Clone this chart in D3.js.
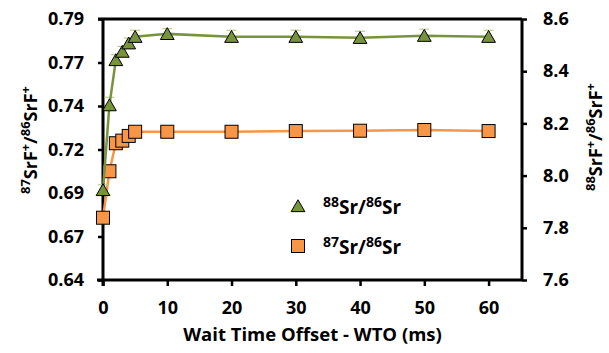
<!DOCTYPE html>
<html><head><meta charset="utf-8">
<script src="https://cdn.jsdelivr.net/npm/d3@7"></script>
<style>
body{margin:0;background:#fff;}
text{font-family:"Open Sans",Lato,sans-serif;font-weight:bold;fill:#000;}
</style></head>
<body>
<svg id="c" width="609" height="353"></svg>
<script>
const wto = [0, 1, 2, 3, 4, 5, 10, 20, 30, 40, 50, 60];
const sr87_86 = [0.6758, 0.7025, 0.7186, 0.7201, 0.7228, 0.7252, 0.7252, 0.7252, 0.7256, 0.7258, 0.7262, 0.7256];
const sr88_86 = [7.945, 8.270, 8.443, 8.475, 8.507, 8.532, 8.543, 8.532, 8.532, 8.528, 8.536, 8.532];
const sr88_86_err = [0.02, 0.03, 0.02, 0.02, 0.02, 0.025, 0.02, 0.025, 0.025, 0.025, 0.025, 0.025];
const xTicks = [0, 10, 20, 30, 40, 50, 60];
const leftTicks = [0.64, 0.665, 0.69, 0.715, 0.74, 0.765, 0.79];
const rightTicks = [7.6, 7.8, 8.0, 8.2, 8.4, 8.6];

const svg = d3.select("#c");
const L = 103, R = 522, T = 19, B = 280;
const x = d3.scaleLinear().domain([0, 65.2]).range([L, R]);
const yL = d3.scaleLinear().domain([0.64, 0.79]).range([B, T]);
const yR = d3.scaleLinear().domain([7.6, 8.6]).range([B, T]);

const green = "#77933C", orange = "#F79646";

const fmtL = v => (Math.round(v * 100 + 1e-6) / 100).toFixed(2);
const ax = svg.append("g").attr("transform", `translate(0,${B})`)
  .call(d3.axisBottom(x).tickValues(xTicks).tickSize(6).tickPadding(15).tickFormat(d3.format("d")));
const al = svg.append("g").attr("transform", `translate(${L},0)`)
  .call(d3.axisLeft(yL).tickValues(leftTicks).tickSize(5).tickPadding(14).tickFormat(fmtL));
const ar = svg.append("g").attr("transform", `translate(${R},0)`)
  .call(d3.axisRight(yR).tickValues(rightTicks).tickSize(5).tickPadding(16).tickFormat(d3.format(".1f")));
[ax, al, ar].forEach(g => {
  g.select(".domain").attr("stroke", "#000").attr("stroke-width", 3);
  g.selectAll(".tick line").attr("stroke", "#000").attr("stroke-width", 2.5);
  g.selectAll(".tick text").style("font-size", "18px").style("font-family", "'Open Sans'").style("font-weight", "bold");
});
ax.select(".domain").attr("d", `M${L - 6},0H${R}`);
al.select(".domain").attr("d", `M0,${T}V${B + 6}`);
ar.select(".domain").attr("d", `M0,${T}V${B}`);
svg.append("line").attr("x1", L - 5).attr("x2", R).attr("y1", T).attr("y2", T)
  .attr("stroke", "#000").attr("stroke-width", 3);

// green series (right axis)
const gG = svg.append("g");
gG.selectAll(".err").data(wto).join("g").each(function (d, i) {
  const g = d3.select(this);
  const cx = x(d), y1 = yR(sr88_86[i] + sr88_86_err[i]), y0 = yR(sr88_86[i] - sr88_86_err[i]);
  g.append("line").attr("x1", cx).attr("x2", cx).attr("y1", y0).attr("y2", y1).attr("stroke", "#b9cd93").attr("stroke-width", 1.2);
  g.append("line").attr("x1", cx - 5).attr("x2", cx + 5).attr("y1", y1).attr("y2", y1).attr("stroke", "#b9cd93").attr("stroke-width", 1.2);
});
gG.append("path").datum(wto.map((d, i) => [d, sr88_86[i]]))
  .attr("d", d3.line().x(d => x(d[0])).y(d => yR(d[1])))
  .attr("fill", "none").attr("stroke", green).attr("stroke-width", 2.5);

// orange series (left axis)
const gO = svg.append("g");
gO.append("path").datum(wto.map((d, i) => [d, sr87_86[i]]))
  .attr("d", d3.line().x(d => x(d[0])).y(d => yL(d[1])))
  .attr("fill", "none").attr("stroke", orange).attr("stroke-width", 2.5);

const tri = (cx, cy, s) => `M${cx},${cy - s * 0.5}L${cx + s * 0.55},${cy + s * 0.45}L${cx - s * 0.55},${cy + s * 0.45}Z`;
gO.selectAll("rect").data(wto).join("rect")
  .attr("x", (d) => x(d) - 6.5).attr("y", (d, i) => yL(sr87_86[i]) - 6.5)
  .attr("width", 13).attr("height", 13)
  .attr("fill", orange).attr("stroke", "#000").attr("stroke-width", 1);
gG.selectAll("path.m").data(wto).join("path").attr("class", "m")
  .attr("d", (d, i) => tri(x(d), yR(sr88_86[i]), 12.5))
  .attr("fill", green).attr("stroke", "#000").attr("stroke-width", 1);
gG.raise();

// legend
const leg = svg.append("g");
leg.append("path").attr("d", tri(298, 206, 12.5)).attr("fill", green).attr("stroke", "#000").attr("stroke-width", 1);
leg.append("rect").attr("x", 291.5).attr("y", 239.5).attr("width", 13).attr("height", 13)
  .attr("fill", orange).attr("stroke", "#000").attr("stroke-width", 1);
function iso(sel, parts, supSize, rise) {
  parts.forEach(p => {
    const ts = sel.append("tspan").text(p[0]);
    if (p[1] === "sup") ts.attr("dy", -rise).style("font-size", supSize + "px");
    else if (p[1] === "base") ts.attr("dy", rise);
  });
}
const t1 = leg.append("text").attr("x", 323).attr("y", 213.5).style("font-size", "19px");
iso(t1, [["88", "sup"], ["Sr/", "base"], ["86", "sup"], ["Sr", "base"]], 14, 7);
const t2 = leg.append("text").attr("x", 323).attr("y", 254).style("font-size", "19px");
iso(t2, [["87", "sup"], ["Sr/", "base"], ["86", "sup"], ["Sr", "base"]], 14, 7);

// axis titles
svg.append("text").attr("x", (L + R) / 2).attr("y", 341).attr("text-anchor", "middle")
  .style("font-size", "18.5px").text("Wait Time Offset - WTO (ms)");
const lt = svg.append("text").attr("transform", "translate(37,140) rotate(-90)").attr("text-anchor", "middle").style("font-size", "18px");
iso(lt, [["87", "sup"], ["SrF", "base"], ["+", "sup"], ["/", "base"], ["86", "sup"], ["SrF", "base"], ["+", "sup"]], 13, 7);
const rt = svg.append("text").attr("transform", "translate(602,137) rotate(-90)").attr("text-anchor", "middle").style("font-size", "18px");
iso(rt, [["88", "sup"], ["SrF", "base"], ["+", "sup"], ["/", "base"], ["86", "sup"], ["SrF", "base"], ["+", "sup"]], 13, 7);
</script>
</body></html>
